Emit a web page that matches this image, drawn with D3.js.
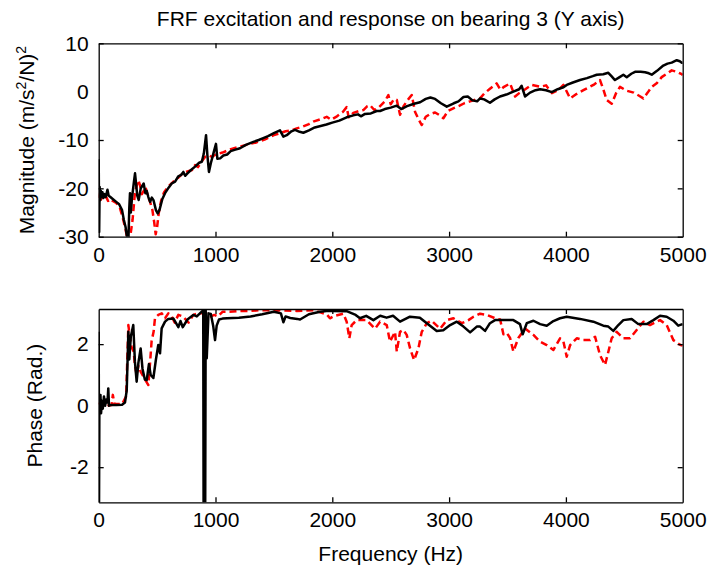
<!DOCTYPE html>
<html>
<head>
<meta charset="utf-8">
<script src="https://cdn.jsdelivr.net/npm/d3@7"></script>
<style>
  body { margin: 0; background: #fff; }
  svg { display: block; font-family: "Liberation Sans", Arial, sans-serif; }
  .axis text { font-size: 21px; fill: #000; }
  .axis line, .axis path { stroke: #000; stroke-width: 1.3; }
</style>
</head>
<body>
<div id="chart"></div>
<script>
// x ticks shared by both panels
const freqTicks = [0, 1000, 2000, 3000, 4000, 5000];
const magTicks = [-30, -20, -10, 0, 10];
const phaseTicks = [-2, 0, 2];

// magnitude, solid black
const magFreqA = [0, 4, 8, 12, 18, 25, 32, 40, 50, 60, 75, 85, 100, 120, 150, 175, 200, 215, 230, 245, 254, 262, 268, 275, 285, 300, 311, 320, 330, 342, 360, 385, 400, 411, 425, 440, 455, 470, 490, 505, 520, 545, 568, 600, 625, 654, 682, 707, 725, 740, 760, 790, 825, 860, 883, 900, 919, 930, 944, 960, 985, 1004, 1016, 1040, 1067, 1100, 1130, 1170, 1210, 1260, 1324, 1370, 1409, 1450, 1500, 1552, 1581, 1610, 1650, 1681, 1720, 1752, 1800, 1850, 1900, 1950, 2000, 2060, 2123, 2180, 2220, 2245, 2280, 2330, 2380, 2409, 2450, 2500, 2552, 2590, 2640, 2700, 2752, 2800, 2840, 2880, 2930, 2980, 3040, 3080, 3123, 3160, 3200, 3240, 3265, 3300, 3350, 3390, 3436, 3490, 3550, 3600, 3621, 3650, 3693, 3740, 3779, 3830, 3879, 3930, 3979, 4007, 4060, 4121, 4180, 4230, 4264, 4320, 4363, 4390, 4420, 4460, 4492, 4521, 4560, 4592, 4640, 4678, 4710, 4735, 4780, 4834, 4870, 4906, 4949, 4975, 4992, 5000];
const magA = [-14, -29, -19.7, -22.5, -20.5, -21.8, -20.8, -22, -21.2, -21.8, -20.3, -21.5, -21.8, -22.2, -22.8, -23.3, -24.5, -26.5, -28, -30.5, -31, -24, -21, -25, -22, -19, -16.9, -19, -21.5, -22.4, -20, -19, -21, -20.5, -21.8, -22.8, -21.9, -22.5, -24.5, -25.2, -24.5, -22.2, -21, -19.8, -19, -18.6, -17.5, -17.2, -16.6, -17.4, -16.9, -16.2, -15.5, -14.7, -14.5, -12.8, -9, -13, -16.6, -14.8, -12.5, -10.8, -13.9, -13.8, -13.2, -13, -12.3, -12, -11.7, -11, -10.4, -10, -9.6, -9.2, -8.6, -8, -9.3, -9, -8.2, -7.9, -8.3, -8.5, -8, -7.4, -7.1, -6.8, -6.4, -6, -5.3, -4.9, -4.7, -5.1, -4.6, -4.5, -4, -4, -3.6, -3.3, -2.9, -3.6, -3, -2.5, -2.2, -1.5, -1.2, -1.5, -2.4, -3.1, -2.4, -2, -1.1, -1, -1.8, -2, -1.4, -1.6, -2.3, -1.6, -1, -0.6, 0, 0.5, 1.2, -1, -0.2, 0.3, 0.5, 0.3, -0.1, 0.5, 0.9, 1.4, 1.9, 2.4, 2.8, 3.2, 3.5, 3.6, 3.9, 3.2, 2.4, 3, 3.5, 3, 3.7, 4.1, 4.1, 4, 3.8, 3.5, 4.3, 5.4, 5.8, 6, 6.5, 6.3, 6, 6];

// magnitude, red dashed
const magFreqB = [0, 10, 20, 35, 50, 65, 80, 100, 120, 150, 182, 205, 230, 250, 270, 290, 310, 330, 340, 355, 370, 385, 400, 420, 440, 460, 475, 488, 500, 515, 535, 560, 600, 640, 680, 720, 760, 800, 825, 850, 883, 910, 944, 970, 1000, 1060, 1120, 1200, 1280, 1350, 1420, 1500, 1552, 1600, 1650, 1695, 1750, 1800, 1837, 1900, 1952, 1990, 2040, 2090, 2123, 2140, 2180, 2230, 2266, 2300, 2323, 2360, 2400, 2450, 2480, 2500, 2530, 2552, 2580, 2610, 2650, 2680, 2709, 2740, 2766, 2800, 2840, 2880, 2920, 2951, 2990, 3040, 3090, 3130, 3180, 3230, 3265, 3300, 3350, 3407, 3440, 3470, 3522, 3565, 3600, 3640, 3707, 3779, 3830, 3880, 3940, 3979, 4036, 4090, 4150, 4236, 4292, 4320, 4349, 4392, 4430, 4463, 4520, 4580, 4630, 4663, 4700, 4735, 4780, 4820, 4870, 4906, 4950, 4992, 5000];
const magB = [-22, -21, -22.3, -21.5, -22.4, -21.8, -22.6, -22.2, -22.6, -23, -24.1, -26, -28.5, -31, -30, -26.5, -21, -19, -18.3, -19.5, -21.2, -20.5, -19.7, -21.5, -22.8, -24.5, -27, -29.5, -28, -25, -22.5, -20.8, -19.5, -18.6, -17.8, -16.9, -16.5, -16.2, -15.2, -15.6, -14.4, -13.5, -13.2, -13.5, -13, -12.6, -12, -11.4, -10.9, -10.5, -9.9, -9, -8.6, -8.2, -8, -7.6, -7.2, -6.7, -6.2, -5.7, -5.2, -5.8, -5.1, -4.2, -3.2, -5.3, -4.4, -4, -3.8, -3, -2.8, -3.8, -3.2, -2, -0.7, -2.6, -1.5, -1.7, -4.8, -3, -1.6, -0.7, -4.2, -5.8, -6.9, -5.2, -4.6, -4.3, -4.9, -5.5, -4, -3.4, -2.9, -2.4, -2, -1.6, -1.4, -0.4, 0.6, 1.7, 0.4, 1, 1.7, -1, -0.3, 0.3, 1.4, 1, 1.3, -0.3, 0.4, 1.4, -1.4, -0.5, 0.3, 1.4, 2.4, 0.5, -1.7, -2.5, -0.3, 1, 0.2, -0.2, -0.9, -1.4, -0.2, 1, 1.8, 3, 3.8, 4.4, 4.1, 3.6, 3.4];

// phase, solid black
const phaseFreqA = [0, 3, 6, 10, 15, 20, 28, 35, 45, 55, 65, 75, 82, 88, 100, 150, 200, 225, 240, 254, 262, 275, 296, 310, 325, 340, 359, 375, 395, 411, 430, 445, 468, 490, 510, 525, 539, 568, 596, 640, 682, 700, 720, 760, 810, 840, 880, 895, 898, 912, 916, 925, 940, 960, 980, 996, 1010, 1030, 1060, 1100, 1200, 1300, 1400, 1500, 1560, 1581, 1600, 1640, 1700, 1724, 1800, 1895, 1950, 2000, 2123, 2200, 2237, 2290, 2352, 2410, 2465, 2520, 2580, 2665, 2750, 2809, 2894, 2950, 3009, 3066, 3123, 3180, 3237, 3265, 3308, 3350, 3393, 3450, 3550, 3607, 3630, 3665, 3722, 3779, 3836, 3893, 3950, 4007, 4121, 4235, 4320, 4363, 4406, 4449, 4492, 4563, 4620, 4692, 4749, 4806, 4863, 4920, 4962, 4991, 5000];
const phaseA = [2.4, -3.14, 0.3, 0, 0.35, -0.25, 0.15, -0.1, 0.3, 0, 0.2, 0.1, 0.56, 0, 0.02, 0.02, 0.03, 0.1, 0.5, 2.4, 1.5, 2.25, 2.62, 1.43, 0.78, 1.4, 1.86, 1.2, 0.85, 0.83, 1.35, 1, 0.9, 1.5, 1.97, 1.7, 2.51, 2.73, 2.82, 2.83, 2.55, 2.75, 2.55, 2.8, 2.95, 2.9, 3.05, 3.1, -3.14, -3.14, 3.1, 1.54, 3, 2.98, 2.6, 2.13, 2.6, 2.8, 2.83, 2.84, 2.86, 2.9, 2.97, 3.05, 3, 2.71, 2.9, 2.85, 2.82, 2.8, 2.97, 3.05, 3.08, 3.08, 3.07, 2.95, 2.84, 2.92, 2.78, 2.92, 2.86, 2.92, 2.73, 2.89, 2.86, 2.68, 2.43, 2.45, 2.62, 2.73, 2.57, 2.38, 2.57, 2.57, 2.43, 2.68, 2.78, 2.78, 2.78, 2.65, 2.32, 2.68, 2.76, 2.65, 2.6, 2.75, 2.84, 2.89, 2.82, 2.73, 2.6, 2.57, 2.43, 2.62, 2.78, 2.82, 2.65, 2.65, 2.78, 2.92, 2.89, 2.76, 2.6, 2.64, 2.65];

// phase, red dashed
const phaseFreqB = [0, 20, 50, 80, 110, 121, 135, 200, 235, 254, 268, 282, 300, 310, 325, 340, 360, 390, 425, 440, 453, 470, 482, 510, 540, 568, 596, 625, 650, 682, 720, 770, 810, 850, 890, 920, 960, 990, 1020, 1060, 1120, 1200, 1300, 1380, 1450, 1520, 1552, 1695, 1838, 1952, 1980, 2020, 2095, 2123, 2146, 2166, 2209, 2294, 2366, 2409, 2466, 2494, 2537, 2552, 2580, 2609, 2637, 2666, 2700, 2737, 2766, 2809, 2851, 2923, 2980, 3037, 3109, 3166, 3209, 3265, 3323, 3408, 3437, 3465, 3493, 3522, 3550, 3593, 3650, 3722, 3779, 3836, 3893, 3950, 3979, 4007, 4036, 4093, 4150, 4207, 4250, 4292, 4335, 4392, 4435, 4492, 4549, 4606, 4663, 4720, 4806, 4863, 4920, 4977, 5000];
const phaseB = [0.1, 0, -0.05, 0, 0.02, 0.35, 0.05, 0.05, 0.3, 2.62, 2.2, 1.9, 1.75, 1.3, 1, 1.3, 1.1, 0.9, 0.67, 1.4, 2.1, 2.4, 2.85, 2.95, 3, 2.84, 3, 2.9, 2.7, 2.95, 2.9, 2.7, 2.95, 3, 3, 3, 2.9, 2.95, 2.9, 3.05, 3.05, 3.08, 3.08, 3.1, 3.1, 3.08, 3.1, 3.08, 3.1, 2.97, 2.84, 2.92, 2.99, 2.73, 2.19, 2.62, 2.78, 2.78, 2.5, 2.73, 2.62, 2.08, 2.4, 1.76, 2.4, 2.46, 2.3, 1.86, 1.48, 1.86, 2.4, 2.68, 2.76, 2.5, 2.78, 2.84, 2.68, 2.78, 2.89, 2.99, 2.95, 2.82, 2.8, 2.32, 2.37, 2.2, 1.76, 2.2, 2.51, 2.3, 2.08, 1.97, 1.81, 2.19, 2.08, 1.59, 1.97, 2.19, 2.13, 2.13, 2.24, 1.64, 1.32, 2.19, 2.4, 2.19, 2.19, 2.46, 2.73, 2.62, 2.78, 2.62, 2.13, 1.98, 1.95];

const width = 710, height = 571;
const left = 98.7, right = 682.7;
const tickLen = 5;
const plain = d => String(d).replace("\u2212", "-");

const svg = d3.select("#chart").append("svg")
  .attr("width", width)
  .attr("height", height);

const x = d3.scaleLinear().domain([0, 5000]).range([left, right]);

function panel(id, top, bottom, yDomain, yTicks, series) {
  const y = d3.scaleLinear().domain(yDomain).range([bottom, top]);

  svg.append("clipPath").attr("id", id)
    .append("rect")
    .attr("x", left).attr("y", top)
    .attr("width", right - left).attr("height", bottom - top);

  const g = svg.append("g");

  // lines first, frame and ticks on top
  series.forEach(s => {
    const pts = s.f.map((f, i) => [f, s.v[i]]);
    g.append("path")
      .datum(pts)
      .attr("clip-path", `url(#${id})`)
      .attr("fill", "none")
      .attr("stroke", s.color)
      .attr("stroke-width", 2.5)
      .attr("stroke-linejoin", "round")
      .attr("stroke-dasharray", s.dash || null)
      .attr("d", d3.line().x(d => x(d[0])).y(d => y(d[1])));
  });

  g.append("g").attr("class", "axis")
    .attr("transform", `translate(0,${bottom})`)
    .call(d3.axisBottom(x).tickValues(freqTicks).tickSize(-tickLen).tickSizeOuter(0).tickPadding(10).tickFormat(plain));
  g.append("g").attr("class", "axis")
    .attr("transform", `translate(0,${top})`)
    .call(d3.axisTop(x).tickValues(freqTicks).tickSize(-tickLen).tickSizeOuter(0).tickFormat(""));
  g.append("g").attr("class", "axis")
    .attr("transform", `translate(${left},0)`)
    .call(d3.axisLeft(y).tickValues(yTicks).tickSize(-tickLen).tickSizeOuter(0).tickPadding(10).tickFormat(plain));
  g.append("g").attr("class", "axis")
    .attr("transform", `translate(${right},0)`)
    .call(d3.axisRight(y).tickValues(yTicks).tickSize(-tickLen).tickSizeOuter(0).tickFormat(""));

  // hide end ticks that sit on the frame corners
  g.selectAll(".axis .tick line").filter(d => d === 0 || d === 5000).attr("stroke-opacity", 0);
  return y;
}

panel("clipMag", 43.3, 236.7, [-30, 10], magTicks, [
  { f: magFreqB, v: magB, color: "#ff0000", dash: "7,4" },
  { f: magFreqA, v: magA, color: "#000000" }
]);

panel("clipPhase", 309, 502.3, [-Math.PI, Math.PI], phaseTicks, [
  { f: phaseFreqB, v: phaseB, color: "#ff0000", dash: "7,4" },
  { f: phaseFreqA, v: phaseA, color: "#000000" }
]);

// titles and labels
svg.append("text")
  .attr("x", (left + right) / 2).attr("y", 26)
  .attr("text-anchor", "middle")
  .style("font-size", "21px")
  .text("FRF excitation and response on bearing 3 (Y axis)");

svg.append("text")
  .attr("x", (left + right) / 2).attr("y", 561)
  .attr("text-anchor", "middle")
  .style("font-size", "21px")
  .text("Frequency (Hz)");

const magLabel = svg.append("text")
  .attr("transform", `translate(34,${(43.3 + 236.7) / 2}) rotate(-90)`)
  .attr("text-anchor", "middle")
  .style("font-size", "21px");
magLabel.append("tspan").text("Magnitude (m/s");
magLabel.append("tspan").attr("dy", -8).style("font-size", "14px").text("2");
magLabel.append("tspan").attr("dy", 8).text("/N)");
magLabel.append("tspan").attr("dy", -8).style("font-size", "14px").text("2");

svg.append("text")
  .attr("transform", `translate(42,${(309 + 502.3) / 2}) rotate(-90)`)
  .attr("text-anchor", "middle")
  .style("font-size", "21px")
  .text("Phase (Rad.)");
</script>
</body>
</html>
